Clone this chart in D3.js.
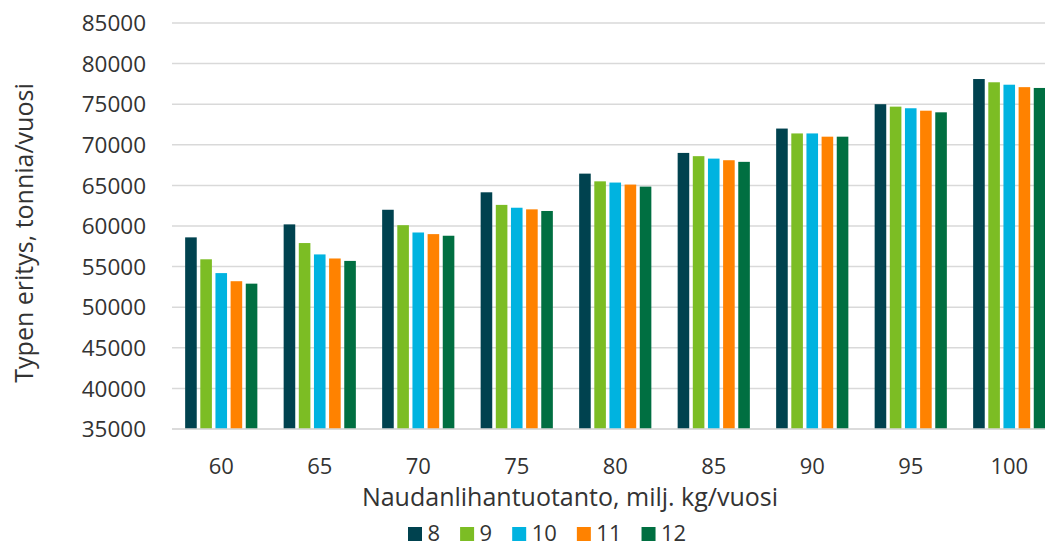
<!DOCTYPE html>
<html>
<head>
<meta charset="utf-8">
<script src="https://cdn.jsdelivr.net/npm/d3@7/dist/d3.min.js"></script>
<style>
  html, body { margin: 0; padding: 0; background: #fff; overflow: hidden; }
  svg text { font-family: "Open Sans", sans-serif; fill: #333; }
</style>
</head>
<body>
<svg id="chart" width="1045" height="547"></svg>
<script>
const categories = ["60", "65", "70", "75", "80", "85", "90", "95", "100"];
const seriesNames = ["8", "9", "10", "11", "12"];
const s8  = [58600, 60200, 62000, 64150, 66450, 69000, 72000, 75000, 78100];
const s9  = [55900, 57900, 60100, 62600, 65500, 68600, 71400, 74700, 77700];
const s10 = [54200, 56500, 59200, 62250, 65350, 68300, 71400, 74500, 77400];
const s11 = [53200, 56000, 59000, 62050, 65100, 68100, 71000, 74200, 77100];
const s12 = [52900, 55700, 58800, 61850, 64850, 67900, 71000, 74000, 77000];
const yTicks = [35000, 40000, 45000, 50000, 55000, 60000, 65000, 70000, 75000, 80000, 85000];
const colors = ["#00424F", "#7CBD24", "#00B3E0", "#FF8200", "#006F41"];

const seriesValues = [s8, s9, s10, s11, s12];

const svg = d3.select("#chart");
const plot = { left: 172, right: 1058.5, top: 23, bottom: 429 };

const x0 = d3.scaleBand().domain(categories).range([plot.left, plot.right]).padding(0);
const bw = x0.bandwidth();
const x1 = d3.scaleBand().domain(seriesNames)
  .range([bw * 0.1335, bw * 0.8665]).paddingInner(0.235).paddingOuter(0);
const y = d3.scaleLinear().domain([35000, 85000]).range([plot.bottom, plot.top]);

// gridlines
svg.append("g").selectAll("line").data(yTicks).join("line")
  .attr("x1", plot.left).attr("x2", plot.right)
  .attr("y1", d => y(d)).attr("y2", d => y(d))
  .attr("stroke", "#d9d9d9").attr("stroke-width", 1.5);

// y tick labels
svg.append("g").selectAll("text").data(yTicks).join("text")
  .attr("x", 146).attr("y", d => y(d)).attr("dy", "0.36em")
  .attr("text-anchor", "end").attr("font-size", 22.5)
  .text(d => d);

// bars
const groups = svg.append("g").selectAll("g").data(categories).join("g")
  .attr("transform", d => `translate(${x0(d)},0)`);
groups.selectAll("rect")
  .data((c, i) => seriesNames.map((s, j) => ({ s, j, v: seriesValues[j][i] })))
  .join("rect")
  .attr("x", d => x1(d.s))
  .attr("width", x1.bandwidth())
  .attr("y", d => y(d.v))
  .attr("height", d => y(35000) - y(d.v))
  .attr("fill", d => colors[d.j]);

// axis line
svg.append("line")
  .attr("x1", plot.left).attr("x2", plot.right)
  .attr("y1", y(35000)).attr("y2", y(35000))
  .attr("stroke", "#d9d9d9").attr("stroke-width", 1.5);

// x tick labels
svg.append("g").selectAll("text").data(categories).join("text")
  .attr("x", d => x0(d) + bw / 2).attr("y", 466).attr("dy", "0.36em")
  .attr("text-anchor", "middle").attr("font-size", 22)
  .text(d => d);

// axis titles
svg.append("text")
  .attr("x", 570).attr("y", 497).attr("dy", "0.36em")
  .attr("text-anchor", "middle").attr("font-size", 25)
  .text("Naudanlihantuotanto, milj. kg/vuosi");

svg.append("text")
  .attr("transform", "translate(24,233) rotate(-90)")
  .attr("dy", "0.36em")
  .attr("text-anchor", "middle").attr("font-size", 25)
  .text("Typen eritys, tonnia/vuosi");

// legend
const legend = svg.append("g");
let lx = 408;
seriesNames.forEach((s, j) => {
  legend.append("rect").attr("x", lx).attr("y", 527).attr("width", 14).attr("height", 14)
    .attr("fill", colors[j]);
  const t = legend.append("text").attr("x", lx + 19.5).attr("y", 541)
    .attr("font-size", 22).text(s);
  lx = lx + 19.5 + t.node().getComputedTextLength() + 20;
});
</script>
</body>
</html>
